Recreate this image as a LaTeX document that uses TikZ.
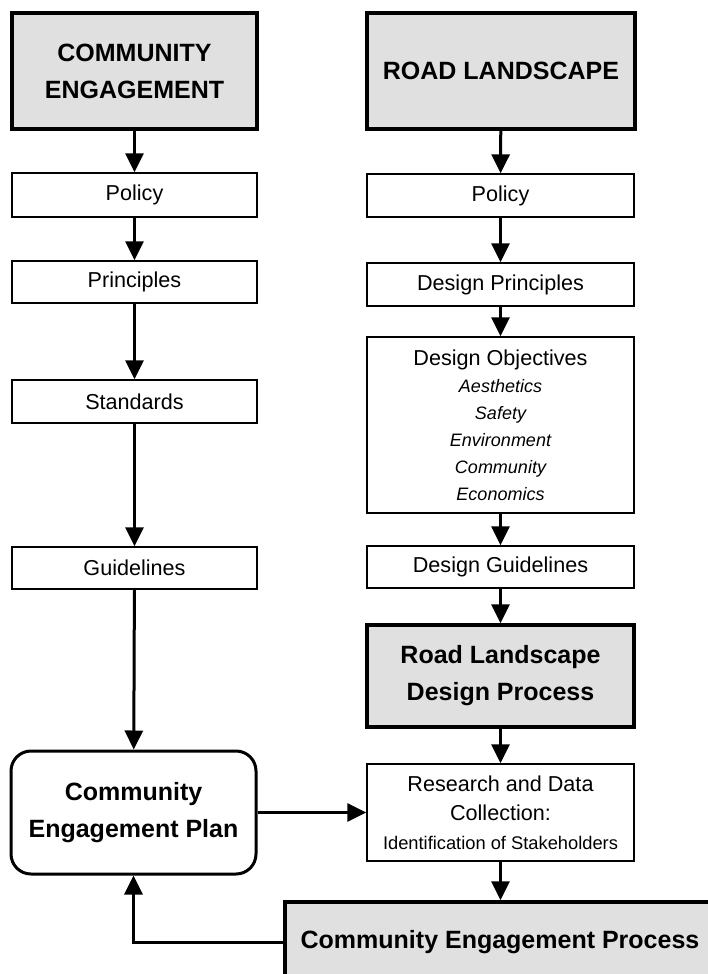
\documentclass[tikz,border=0pt]{standalone}
\usepackage{fontspec}
\setmainfont{Liberation Sans}
\usetikzlibrary{arrows.meta}
\definecolor{hdrgray}{RGB}{224,224,224}
\newcommand\objit[1]{{\fontsize{18}{27}\selectfont\itshape #1}}
\tikzset{
  thinbox/.style={draw, line width=1.4pt, fill=white, inner sep=0pt, align=center,
    font=\fontsize{21.6}{30}\selectfont},
  hdrbox/.style={draw, line width=3.3pt, fill=hdrgray, inner sep=0pt, align=center,
    font=\fontsize{25}{37}\selectfont\bfseries},
  planbox/.style={draw, line width=3pt, fill=white, rounded corners=20pt, inner sep=0pt, align=center,
    font=\fontsize{25}{37}\selectfont\bfseries},
  arr/.style={line width=3pt, -{Triangle[length=19pt,width=18pt]}}
}
\begin{document}
\begin{tikzpicture}[x=1pt,y=-1pt]
\useasboundingbox (0,0) rectangle (708,974);
\fill[white] (0,0) rectangle (708,974);
% left column
\node[hdrbox, minimum width=245pt, minimum height=116pt] (ce) at (134.5,71) {COMMUNITY\\ENGAGEMENT};
\node[thinbox, minimum width=245pt, minimum height=44pt] (lpol) at (134.5,195) {Policy};
\node[thinbox, minimum width=245pt, minimum height=42pt] (lpri) at (134.5,282) {Principles};
\node[thinbox, minimum width=245pt, minimum height=43pt] (lstd) at (134.5,401.5) {Standards};
\node[thinbox, minimum width=245pt, minimum height=42pt] (lgui) at (134.5,568) {Guidelines};
\node[planbox, minimum width=245pt, minimum height=123pt] (cep) at (133.5,812.5) {Community\\Engagement Plan};
% right column
\node[hdrbox, minimum width=268pt, minimum height=116pt] (rl) at (501,71) {ROAD LANDSCAPE};
\node[thinbox, minimum width=267pt, minimum height=43pt] (rpol) at (500.5,195.5) {Policy};
\node[thinbox, minimum width=267pt, minimum height=43pt] (rpri) at (500.5,284.5) {Design Principles};
\node[thinbox, minimum width=267pt, minimum height=176pt, font=\fontsize{21.6}{27}\selectfont] (robj) at (500.5,425)
  {Design Objectives\\\objit{Aesthetics}\\\objit{Safety}\\\objit{Environment}\\\objit{Community}\\\objit{Economics}};
\node[thinbox, minimum width=267pt, minimum height=42pt] (rgui) at (500.5,567) {Design Guidelines};
\node[hdrbox, minimum width=267pt, minimum height=102pt] (rldp) at (500.5,676) {Road Landscape\\Design Process};
\node[thinbox, minimum width=267pt, minimum height=97pt, font=\fontsize{21.6}{29}\selectfont] (res) at (500.5,812.5)
  {Research and Data\\Collection:\\{\fontsize{18.3}{26}\selectfont Identification of Stakeholders}};
\node[hdrbox, minimum width=430pt, minimum height=80pt] (cepr) at (500,942) {Community Engagement Process};
% connectors
\draw[arr] (ce) -- (lpol);
\draw[arr] (lpol) -- (lpri);
\draw[arr] (lpri) -- (lstd);
\draw[arr] (lstd) -- (lgui);
\draw[arr] (lgui) -- (cep);
\draw[arr] (rl) -- (rpol);
\draw[arr] (rpol) -- (rpri);
\draw[arr] (rpri) -- (robj);
\draw[arr] (robj) -- (rgui);
\draw[arr] (rgui) -- (rldp);
\draw[arr] (rldp) -- (res);
\draw[arr] (res) -- (res |- cepr.north);
\draw[arr] (cep) -- (res);
\draw[arr] (cepr.west) -| (cep.south);
\end{tikzpicture}
\end{document}
